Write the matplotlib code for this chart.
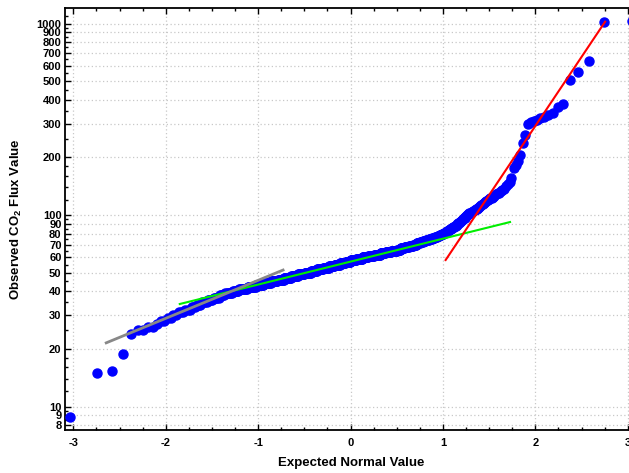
import numpy as np
import matplotlib
matplotlib.use("Agg")
import matplotlib.pyplot as plt
from matplotlib.ticker import FixedLocator, FixedFormatter, MultipleLocator, NullFormatter
from statistics import NormalDist

plt.rcParams['font.family'] = ['Liberation Sans', 'DejaVu Sans']
plt.rcParams['font.weight'] = 'bold'
plt.rcParams['axes.unicode_minus'] = False
plt.rcParams['mathtext.fontset'] = 'custom'
plt.rcParams['mathtext.rm'] = 'Liberation Sans:bold'
plt.rcParams['mathtext.it'] = 'Liberation Sans:bold'

# observed flux values (sorted): lowest readings, the bulk as value/count table, upper tail
low_tail = [8.8, 15.0, 15.4, 18.7]

band_values = list(range(24, 89))
band_counts = [1, 2, 2, 1, 2, 2, 2, 3, 3, 3,
               3, 4, 4, 5, 5, 7, 7, 10, 11, 11,
               11, 11, 11, 13, 13, 13, 13, 13, 13, 13,
               12, 13, 12, 12, 13, 14, 13, 13, 14, 11,
               12, 12, 7, 8, 8, 8, 6, 6, 5, 5,
               5, 5, 4, 4, 3, 3, 3, 2, 2, 2,
               2, 2, 2, 2, 2]

upper_tail = [89, 90, 91, 91, 92, 93, 94, 95, 96, 97,
              98, 99, 100, 101, 102, 103, 103, 104, 105, 106,
              107, 108, 109, 110, 112, 113, 114, 116, 117, 118,
              120, 121, 122, 123, 124, 126, 128, 130, 131, 133,
              135, 137, 141, 145, 149, 156, 175, 182, 192, 206,
              237, 262, 298, 305, 310, 315, 320, 325, 333, 340,
              365, 380, 510, 560, 640, 1020, 1030]

# reference lines (expected normal value, flux)
gray_x = [-2.644, -0.730]
gray_y = [21.5, 51.6]
green_x = [-1.848, 1.726]
green_y = [34.3, 91.9]
red_x = [1.029, 2.755]
red_y = [58.2, 1022]

y_major = [8, 9, 10, 20, 30, 40, 50, 60, 70, 80, 90,
           100, 200, 300, 400, 500, 600, 700, 800, 900, 1000]
y_minor = [8.5, 9.5, 12, 14, 16, 18, 25, 35, 45, 55, 65, 75, 85, 95,
           120, 140, 160, 180, 250, 350, 450, 550, 650, 750, 850, 950, 1100]

obs = np.sort(np.concatenate([low_tail, np.repeat(band_values, band_counts), upper_tail]))
n = len(obs)
nd = NormalDist()
expected = np.array([nd.inv_cdf((i - 0.375) / (n + 0.25)) for i in range(1, n + 1)])

fig = plt.figure(figsize=(6.29, 4.73), dpi=100)
ax = fig.add_axes([65 / 629, 43 / 473, 572 / 629, 422 / 473])

ax.plot(expected, obs, 'o', color='#0000ff', mec='#0000ff', ms=6.5, zorder=3)
ax.plot(green_x, green_y, color='#00ee00', lw=1.5, zorder=4)
ax.plot(gray_x, gray_y, color='#888888', lw=2, zorder=4)
ax.plot(red_x, red_y, color='#ff0000', lw=1.5, zorder=5)

ax.set_yscale('log')
ax.set_xlim(-3.09, 3.1)
ax.set_ylim(7.54, 1205)

ax.yaxis.set_major_locator(FixedLocator(y_major))
ax.yaxis.set_major_formatter(FixedFormatter([str(v) for v in y_major]))
ax.yaxis.set_minor_locator(FixedLocator(y_minor))
ax.yaxis.set_minor_formatter(NullFormatter())
ax.xaxis.set_major_locator(MultipleLocator(1))
ax.xaxis.set_minor_locator(MultipleLocator(0.25))

ax.grid(True, which='major', color='#c8c8c8', linestyle=(0, (1, 2)), linewidth=0.9)
ax.tick_params(which='both', direction='in', top=True, right=False, width=1)
ax.tick_params(which='major', length=4, labelsize=8)
ax.tick_params(which='minor', length=2.5)
ax.tick_params(axis='x', pad=6)
ax.tick_params(axis='y', pad=2.5)
for s in ax.spines.values():
    s.set_linewidth(1.3)

ax.set_xlabel('Expected Normal Value', fontsize=9.5, fontweight='bold', va='center')
ax.xaxis.set_label_coords(0.5, -0.078)
ax.set_ylabel('Observed CO$_2$ Flux Value', fontsize=9.5, fontweight='bold', va='center')
ax.yaxis.set_label_coords(-0.0845, 0.5)

fig.savefig('out.png', dpi=100)
